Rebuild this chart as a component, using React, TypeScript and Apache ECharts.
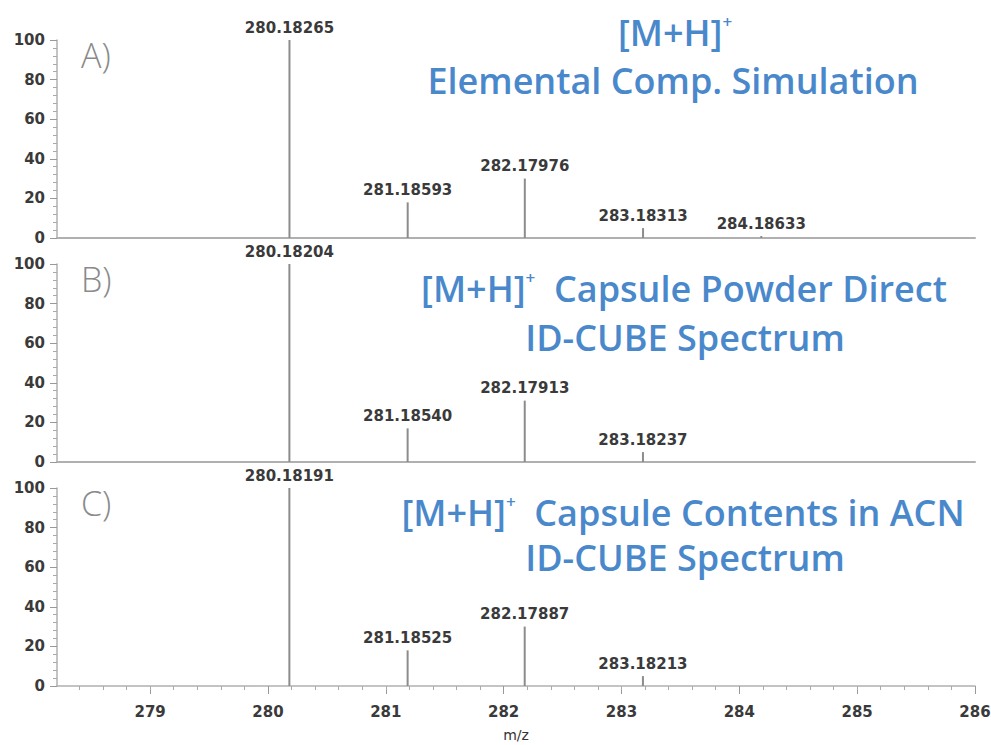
import React, { useEffect, useRef } from "react";
import * as echarts from "echarts";

const MZ_A = [280.18265, 281.18593, 282.17976, 283.18313, 284.18633];
const INT_A = [100, 18, 30, 5, 1];
const MZ_B = [280.18204, 281.1854, 282.17913, 283.18237];
const INT_B = [100, 17, 31, 5];
const MZ_C = [280.18191, 281.18525, 282.17887, 283.18213];
const INT_C = [100, 18, 30, 5];
const X_MIN = 278.21;
const X_MAX = 286;
const X_TICKS = [279, 280, 281, 282, 283, 284, 285, 286];
const Y_TICKS = [0, 20, 40, 60, 80, 100];
const PANEL_LETTERS = ["A)", "B)", "C)"];

const BLUE = "#4a88cc";
const TITLE_FONT = "'Open Sans', 'Noto Sans', sans-serif";
const TICK_FONT = "'DejaVu Sans', Arial, sans-serif";

function titleText(x: number, y: number, parts: string, size = 36) {
  return {
    type: "text",
    x,
    y,
    style: {
      text: parts,
      align: "center",
      verticalAlign: "middle",
      rich: {
        a: { fontSize: size, fontFamily: TITLE_FONT, fontWeight: 600, fill: BLUE, color: BLUE },
        s: { fontSize: 17, fontFamily: TITLE_FONT, fontWeight: 600, fill: BLUE, color: BLUE, padding: [0, 0, 22, 0] },
      },
    },
  };
}

export default function App() {
  const ref = useRef<HTMLDivElement>(null);
  useEffect(() => {
    if (!ref.current) return;
    const chart = echarts.init(ref.current, null, { renderer: "svg" });
    const tops = [40, 264, 488];
    const h = 198;
    const datasets = [
      [MZ_A, INT_A],
      [MZ_B, INT_B],
      [MZ_C, INT_C],
    ];
    const grids = tops.map((t) => ({
      left: 57,
      right: 16,
      top: t,
      height: h,
      containLabel: false,
      outerBoundsMode: "none",
    }));
    const xAxes = tops.map((_, i) => {
      const bottom = i === 2;
      return {
        type: "value",
        gridIndex: i,
        min: X_MIN,
        max: X_MAX,
        name: bottom ? "m/z" : "",
        nameLocation: "middle",
        nameGap: 42,
        nameMoveOverlap: false,
        nameTextStyle: { fontFamily: TICK_FONT, fontSize: 14, color: "#333" },
        axisLine: { show: true, lineStyle: { color: "#b0b0b0", width: bottom ? 1.5 : 2 } },
        axisTick: { show: bottom, length: 8, lineStyle: { color: "#999" }, customValues: X_TICKS },
        minorTick: { show: bottom, splitNumber: 10, length: 4, lineStyle: { color: "#aaa" } },
        axisLabel: {
          show: bottom,
          margin: 18,
          fontFamily: TICK_FONT,
          fontWeight: "bold",
          fontSize: 15,
          color: "#3a3a3a",
          customValues: X_TICKS,
        },
        splitLine: { show: false },
      };
    });
    const yAxes = tops.map((_, i) => ({
      type: "value",
      gridIndex: i,
      min: 0,
      max: 100,
      interval: 20,
      axisLine: { show: true, lineStyle: { color: "#b0b0b0", width: 1.5 } },
      axisTick: { show: true, length: 7, lineStyle: { color: "#999" } },
      minorTick: { show: true, splitNumber: 5, length: 4, lineStyle: { color: "#aaa" } },
      axisLabel: {
        margin: 12,
        fontFamily: TICK_FONT,
        fontWeight: "bold",
        fontSize: 15,
        color: "#3a3a3a",
        customValues: Y_TICKS,
      },
      splitLine: { show: false },
    }));
    const series = datasets.map(([mz, it], i) => ({
      type: "bar",
      xAxisIndex: i,
      yAxisIndex: i,
      barWidth: 2,
      itemStyle: { color: "#8c8c8c" },
      data: mz.map((m, k) => [m, it[k]]),
      label: {
        show: true,
        position: "top",
        distance: 5,
        fontFamily: TICK_FONT,
        fontWeight: "bold",
        fontSize: 15,
        color: "#3a3a3a",
        formatter: (p: any) => p.value[0].toFixed(5),
      },
    }));
    const letters = PANEL_LETTERS.map((l, i) => ({
      type: "text",
      x: 81,
      y: tops[i] + 15,
      style: {
        text: l,
        fontSize: 34,
        fontFamily: TITLE_FONT,
        fontWeight: 300,
        fill: "#8a8a8a",
        align: "left",
        verticalAlign: "middle",
      },
    }));
    chart.setOption({
      animation: false,
      grid: grids,
      xAxis: xAxes,
      yAxis: yAxes,
      series,
      graphic: [
        ...letters,
        titleText(675, 32, "{a|[M+H]}{s|+}"),
        titleText(673, 80, "{a|Elemental Comp. Simulation}"),
        titleText(684, 288, "{a|[M+H]}{s|+}{a|  Capsule Powder Direct}"),
        titleText(685, 337, "{a|ID-CUBE Spectrum}"),
        titleText(683, 512, "{a|[M+H]}{s|+}{a|  Capsule Contents in ACN}"),
        titleText(685, 557, "{a|ID-CUBE Spectrum}"),
      ],
    });
    return () => chart.dispose();
  }, []);
  return (
    <div
      ref={ref}
      style={{ position: "fixed", left: 0, top: 0, width: 991, height: 745, background: "#fff" }}
    />
  );
}
